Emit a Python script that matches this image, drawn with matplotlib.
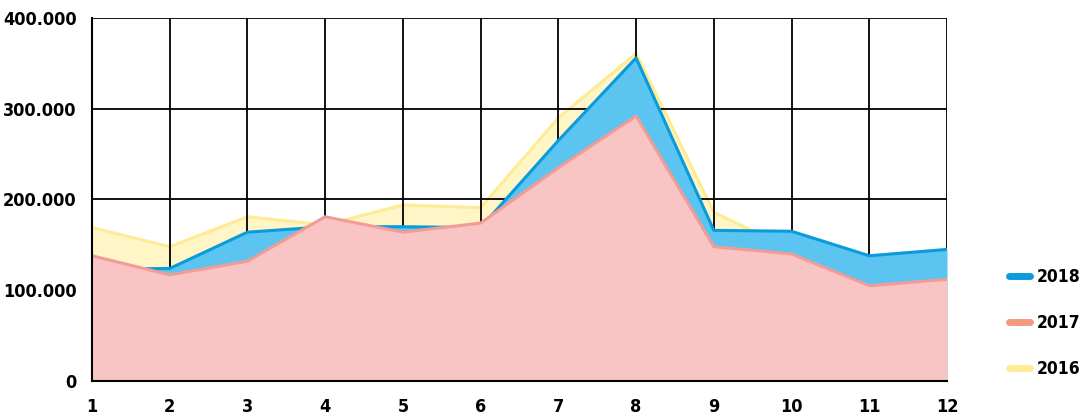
import numpy as np
import matplotlib.pyplot as plt
from matplotlib.lines import Line2D

months = list(range(1, 13))
v2016 = [169000, 148000, 181000, 172000, 194000, 191000, 290000, 361000, 186000, 145000, 118000, 126000]
v2018 = [123000, 124000, 164000, 170000, 170000, 169000, 265000, 356000, 166000, 165000, 138000, 145000]
v2017 = [138000, 117000, 132000, 181000, 164000, 174000, 235000, 292000, 148000, 140000, 105000, 112000]

series = [
    ('2016', v2016, '#FFEB94', '#FFF5C6'),
    ('2018', v2018, '#0A9BDB', '#5CC4F0'),
    ('2017', v2017, '#F29C98', '#F8C5C4'),
]

plt.rcParams['font.family'] = ['DejaVu Sans']
plt.rcParams['font.stretch'] = 'condensed'
plt.rcParams['font.weight'] = 'bold'

fig = plt.figure(figsize=(10.83, 4.17), dpi=100)
ax = fig.add_axes([92 / 1083, 36 / 417, 855 / 1083, 363 / 417])

for i, (name, vals, lc, fc) in enumerate(series):
    ax.fill_between(months, 0, vals, color=fc, lw=0, zorder=1 + 2 * i)
    ax.plot(months, vals, color=lc, lw=2.2, zorder=2 + 2 * i)

ax.set_xlim(1, 12)
ax.set_ylim(0, 400000)
ax.set_xticks(months)
ax.set_yticks([0, 100000, 200000, 300000, 400000])
ax.set_yticklabels(['0', '100.000', '200.000', '300.000', '400.000'])
ax.grid(True, color='black', lw=1.3, zorder=10)
ax.set_axisbelow(False)
for s in ['top', 'right']:
    ax.spines[s].set_visible(False)
for s in ['left', 'bottom']:
    ax.spines[s].set_linewidth(1.5)
    ax.spines[s].set_zorder(11)
ax.tick_params(axis='both', length=0, labelsize=13)
ax.tick_params(axis='x', pad=12)
ax.tick_params(axis='y', pad=11)

handles = [
    Line2D([], [], color='#0A9BDB', lw=5, solid_capstyle='round', label='2018'),
    Line2D([], [], color='#F29A7E', lw=5, solid_capstyle='round', label='2017'),
    Line2D([], [], color='#FFEB94', lw=5, solid_capstyle='round', label='2016'),
]
fig.legend(handles=handles, loc='center left', bbox_to_anchor=(997 / 1083, 94 / 417),
           frameon=False, fontsize=12.5, handlelength=1.2, labelspacing=1.6,
           handletextpad=0.4, borderpad=0.2)

fig.savefig('out.png', dpi=100)
